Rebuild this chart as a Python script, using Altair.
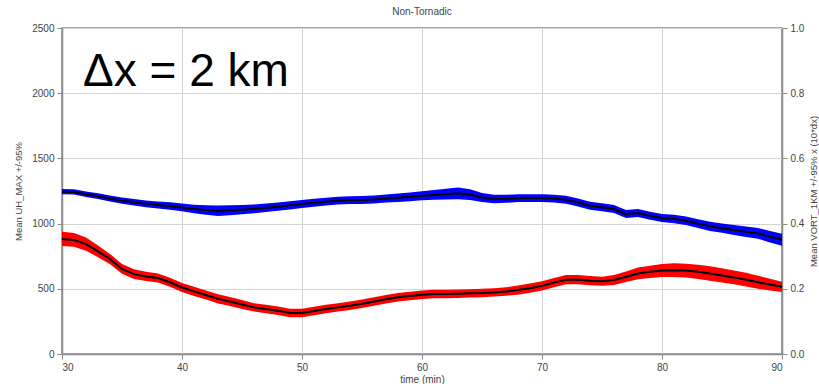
import altair as alt
import pandas as pd

time = list(range(30, 91))

uh_mean = [1245, 1243, 1225, 1210, 1192, 1176, 1163, 1152, 1143, 1135,
           1124, 1112, 1104, 1099, 1102, 1107, 1113, 1122, 1130, 1140,
           1150, 1160, 1168, 1176, 1180, 1181, 1185, 1192, 1198, 1205,
           1214, 1220, 1226, 1232, 1222, 1200, 1189, 1190, 1195, 1196,
           1196, 1192, 1183, 1162, 1137, 1125, 1112, 1074, 1081, 1060,
           1043, 1035, 1022, 1000, 979, 965, 951, 938, 925, 900, 877]
uh_half = [20, 20, 21, 22, 23, 24, 25, 26, 27, 28,
           30, 33, 37, 40, 38, 36, 34, 33, 32, 31,
           31, 30, 30, 30, 30, 30, 30, 31, 32, 33,
           34, 37, 41, 45, 41, 35, 32, 31, 30, 30,
           30, 30, 30, 30, 31, 31, 31, 31, 31, 31,
           31, 32, 33, 34, 35, 36, 38, 40, 42, 44, 46]

vort_mean = [0.353, 0.350, 0.337, 0.315, 0.291, 0.261, 0.245, 0.238, 0.233, 0.220,
             0.204, 0.192, 0.181, 0.169, 0.161, 0.152, 0.143, 0.138, 0.133, 0.126,
             0.126, 0.132, 0.138, 0.143, 0.148, 0.154, 0.161, 0.168, 0.174, 0.178,
             0.182, 0.184, 0.184, 0.185, 0.186, 0.187, 0.189, 0.192, 0.196, 0.202,
             0.209, 0.219, 0.228, 0.228, 0.225, 0.223, 0.227, 0.237, 0.247, 0.252,
             0.256, 0.257, 0.256, 0.252, 0.247, 0.241, 0.235, 0.228, 0.220, 0.213, 0.206]
vort_half = [0.022, 0.021, 0.020, 0.018, 0.016, 0.015, 0.015, 0.014, 0.014, 0.014,
             0.014, 0.014, 0.014, 0.014, 0.014, 0.014, 0.013, 0.013, 0.013, 0.013,
             0.013, 0.013, 0.013, 0.013, 0.013, 0.013, 0.013, 0.013, 0.013, 0.013,
             0.013, 0.013, 0.013, 0.013, 0.013, 0.013, 0.013, 0.013, 0.014, 0.014,
             0.014, 0.014, 0.014, 0.014, 0.014, 0.014, 0.015, 0.016, 0.018, 0.019,
             0.020, 0.021, 0.021, 0.022, 0.022, 0.022, 0.021, 0.021, 0.020, 0.018, 0.016]

annotation_text = ["\u0394x = 2 km"]
annotation_t = [31.75]
annotation_uh = [2057]

df = pd.DataFrame({
    "t": time,
    "uh": uh_mean,
    "uh_lo": [m - h for m, h in zip(uh_mean, uh_half)],
    "uh_hi": [m + h for m, h in zip(uh_mean, uh_half)],
    "vort": vort_mean,
    "v_lo": [m - h for m, h in zip(vort_mean, vort_half)],
    "v_hi": [m + h for m, h in zip(vort_mean, vort_half)],
})
ann = pd.DataFrame({"t": annotation_t, "uh": annotation_uh, "txt": annotation_text})

FONT = "Liberation Sans"
GRID = "#d4d4d4"
DOM = "#8c8c8c"

xenc = alt.X("t:Q", scale=alt.Scale(domain=[30, 90], nice=False),
             axis=alt.Axis(values=[30, 40, 50, 60, 70, 80, 90], title="time (min)",
                           grid=True, gridColor=GRID, domainColor=DOM, domainWidth=1.5,
                           tickColor=DOM, tickSize=5, labelFontSize=10, labelColor="#444",
                           labelFont=FONT, titleFont=FONT, titleFontSize=10,
                           titleFontWeight="normal", titleColor="#444", labelPadding=3,
                           titlePadding=2))

yl_scale = alt.Scale(domain=[0, 2500], nice=False)
yl_axis = alt.Axis(values=[0, 500, 1000, 1500, 2000, 2500], format="d",
                   title="Mean UH_MAX +/-95%",
                   grid=True, gridColor=GRID, domainColor=DOM, domainWidth=1.5,
                   tickColor=DOM, tickSize=5, labelFontSize=10, labelColor="#444",
                   labelFont=FONT, titleFont=FONT, titleFontSize=9.5,
                   titleFontWeight="normal", titleColor="#444", labelPadding=3,
                   titlePadding=8)

yr_scale = alt.Scale(domain=[0, 1], nice=False)
yr_axis = alt.Axis(values=[0, 0.2, 0.4, 0.6, 0.8, 1.0], format=".1f", orient="right",
                   title="Mean VORT_1KM +/-95%  x (10*dx)", grid=False,
                   domainColor=DOM, domainWidth=1.5, tickColor=DOM, tickSize=5,
                   labelFontSize=10, labelColor="#444", labelFont=FONT,
                   titleFont=FONT, titleFontSize=9.5, titleFontWeight="normal",
                   titleColor="#444", labelPadding=3, titlePadding=5, titleAngle=270,
                   titleBaseline="top")

base = alt.Chart(df)

blue_band = base.mark_area(color="#0000ff", opacity=1).encode(
    x=xenc,
    y=alt.Y("uh_lo:Q", scale=yl_scale, axis=yl_axis),
    y2="uh_hi:Q",
)
blue_line = base.mark_line(color="black", strokeWidth=2).encode(
    x="t:Q", y=alt.Y("uh:Q", scale=yl_scale),
)
label = alt.Chart(ann).mark_text(font=FONT, fontSize=46, fontWeight="normal",
                                 align="left", baseline="alphabetic", color="black").encode(
    x="t:Q", y=alt.Y("uh:Q", scale=yl_scale), text="txt:N",
)
left = alt.layer(blue_band, blue_line, label)

red_band = base.mark_area(color="#ff0000", opacity=1).encode(
    x="t:Q",
    y=alt.Y("v_lo:Q", scale=yr_scale, axis=yr_axis),
    y2="v_hi:Q",
)
red_line = base.mark_line(color="black", strokeWidth=2).encode(
    x="t:Q", y=alt.Y("vort:Q", scale=yr_scale),
)
right = alt.layer(red_band, red_line)

chart = alt.layer(left, right).resolve_scale(y="independent").properties(
    width=720, height=326,
    title=alt.TitleParams("Non-Tornadic", fontSize=10, fontWeight="normal",
                          font=FONT, color="#444", offset=6),
    autosize=alt.AutoSizeParams(type="none"),
    padding={"left": 62, "top": 28, "right": 37, "bottom": 30},
).configure_view(stroke=DOM, strokeWidth=1.5)

chart.save("out.html", embed_options={"renderer": "svg", "actions": False})
